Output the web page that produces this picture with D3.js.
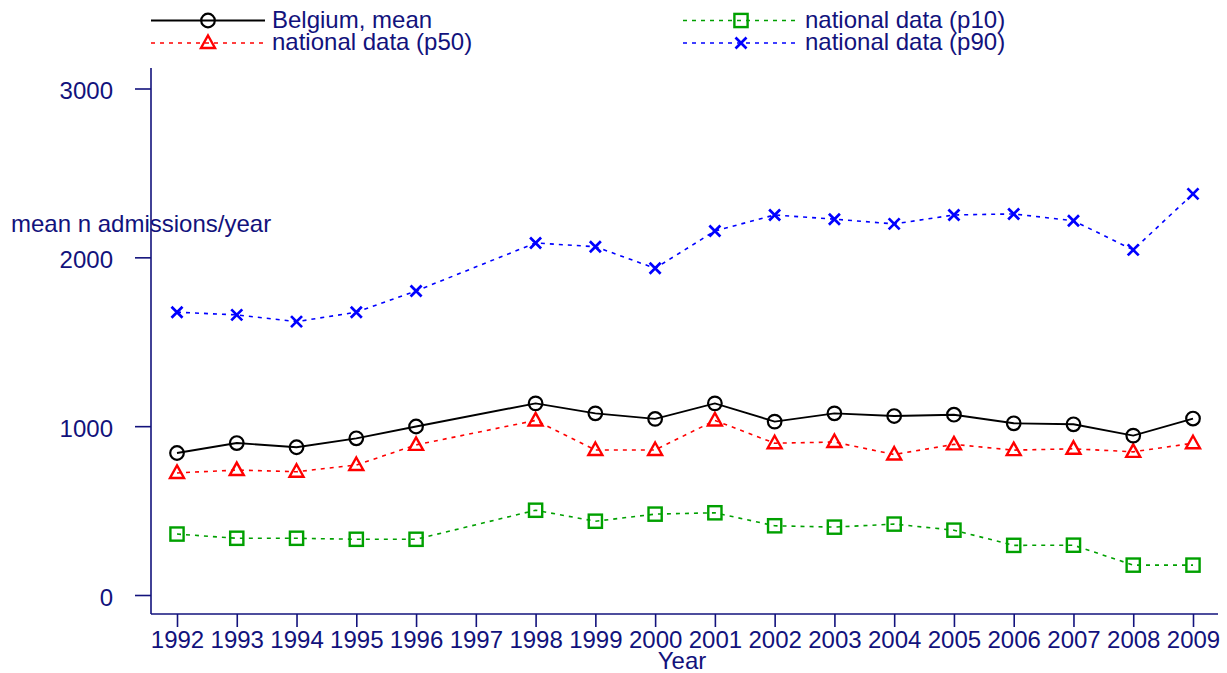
<!DOCTYPE html>
<html>
<head>
<meta charset="utf-8">
<script src="https://cdn.jsdelivr.net/npm/d3@7/dist/d3.min.js"></script>
<style>
  html, body { margin: 0; padding: 0; background: #fff; }
  svg { display: block; font-family: "Liberation Sans", Arial, Helvetica, sans-serif; }
</style>
</head>
<body>
<svg id="chart" width="1227" height="673"></svg>
<script>
// Hospital admissions per year (1997 not surveyed)
const years = [1992, 1993, 1994, 1995, 1996, 1998, 1999, 2000, 2001, 2002, 2003, 2004, 2005, 2006, 2007, 2008, 2009];
const belgiumMean = [841, 900, 875, 928, 998, 1135, 1076, 1043, 1135, 1027, 1076, 1060, 1068, 1017, 1011, 944, 1045];
const p50 = [723, 740, 730, 770, 889, 1034, 859, 859, 1034, 899, 906, 832, 892, 858, 866, 848, 899];
const p10 = [361, 336, 336, 330, 330, 502, 437, 479, 487, 410, 402, 420, 384, 294, 295, 177, 177];
const p90 = [1675, 1659, 1619, 1675, 1801, 2085, 2063, 1935, 2156, 2251, 2226, 2198, 2251, 2257, 2217, 2044, 2376];
const xTicks = d3.range(1992, 2010);
const yTicks = [0, 1000, 2000, 3000];

const series = [
  { name: "Belgium, mean",       values: belgiumMean, color: "#000000", dash: null,  marker: "circle" },
  { name: "national data (p10)", values: p10,         color: "#00a000", dash: "4,5", marker: "square" },
  { name: "national data (p50)", values: p50,         color: "#ff0000", dash: "4,5", marker: "triangle" },
  { name: "national data (p90)", values: p90,         color: "#0000ff", dash: "4,5", marker: "cross" }
];

const ink = "#12127c";
const fontSize = "24px";
const svg = d3.select("#chart");

const x = d3.scaleLinear().domain([1992, 2009]).range([177, 1193]);
const y = d3.scaleLinear().domain([0, 3000]).range([595, 88.5]);

const axisX = 151, axisY = 614;

// axis lines
svg.append("line").attr("x1", axisX).attr("x2", axisX).attr("y1", 68).attr("y2", axisY)
  .attr("stroke", ink).attr("stroke-width", 1.6);
svg.append("line").attr("x1", axisX).attr("x2", 1218).attr("y1", axisY).attr("y2", axisY)
  .attr("stroke", ink).attr("stroke-width", 1.6);

// y axis ticks and labels
const gy = svg.append("g").attr("transform", `translate(${axisX},0)`)
  .call(d3.axisLeft(y).tickValues(yTicks).tickSize(16).tickPadding(22).tickFormat(d3.format("d")));
gy.select(".domain").remove();
gy.selectAll("line").attr("stroke", ink).attr("stroke-width", 1.6);
gy.selectAll("text").attr("fill", ink).style("font-size", fontSize).attr("dy", "0.42em");

// x axis ticks and labels
const gx = svg.append("g").attr("transform", `translate(0,${axisY})`)
  .call(d3.axisBottom(x).tickValues(xTicks).tickSize(13).tickPadding(4).tickFormat(d3.format("d")));
gx.select(".domain").remove();
gx.selectAll("line").attr("stroke", ink).attr("stroke-width", 1.6);
gx.selectAll("text").attr("fill", ink).style("font-size", fontSize).attr("dy", "0.7em");

// axis titles
svg.append("text").attr("x", 11).attr("y", 232).attr("fill", ink)
  .style("font-size", fontSize).text("mean n admissions/year");
svg.append("text").attr("x", 682).attr("y", 669).attr("text-anchor", "middle").attr("fill", ink)
  .style("font-size", fontSize).text("Year");

function drawMarker(g, type, cx, cy, color) {
  if (type === "circle") {
    g.append("circle").attr("cx", cx).attr("cy", cy).attr("r", 6.8)
      .attr("fill", "none").attr("stroke", color).attr("stroke-width", 2.2);
  } else if (type === "square") {
    g.append("rect").attr("x", cx - 6.6).attr("y", cy - 6.6).attr("width", 13.2).attr("height", 13.2)
      .attr("fill", "none").attr("stroke", color).attr("stroke-width", 2.4);
  } else if (type === "triangle") {
    const h = 12.5, w = 14;
    g.append("path")
      .attr("d", `M${cx},${cy - h * 0.6}L${cx + w / 2},${cy + h * 0.4}L${cx - w / 2},${cy + h * 0.4}Z`)
      .attr("fill", "none").attr("stroke", color).attr("stroke-width", 2.4).attr("stroke-linejoin", "miter");
  } else if (type === "cross") {
    const s = 5.5;
    g.append("path")
      .attr("d", `M${cx - s},${cy - s}L${cx + s},${cy + s}M${cx - s},${cy + s}L${cx + s},${cy - s}`)
      .attr("stroke", color).attr("stroke-width", 2.7);
  }
}

const line = d3.line().x((d, i) => x(years[i])).y(d => y(d));

// draw p90, p10, p50 first, mean on top
const order = [3, 1, 2, 0];
order.forEach(k => {
  const s = series[k];
  const g = svg.append("g");
  g.append("path").datum(s.values).attr("d", line)
    .attr("fill", "none").attr("stroke", s.color)
    .attr("stroke-width", s.dash ? 1.6 : 1.9)
    .attr("stroke-dasharray", s.dash);
  s.values.forEach((v, i) => drawMarker(g, s.marker, x(years[i]), y(v), s.color));
});

// legend: two columns, two rows
const legendPos = [
  { x1: 151, x2: 265, mx: 208, tx: 272, y: 20.5 },
  { x1: 683, x2: 795, mx: 741, tx: 805, y: 20.5 },
  { x1: 151, x2: 265, mx: 208, tx: 272, y: 43 },
  { x1: 683, x2: 795, mx: 741, tx: 805, y: 43 }
];
series.forEach((s, k) => {
  const p = legendPos[k];
  const g = svg.append("g");
  g.append("line").attr("x1", p.x1).attr("x2", p.x2).attr("y1", p.y).attr("y2", p.y)
    .attr("stroke", s.color).attr("stroke-width", s.dash ? 1.6 : 1.9).attr("stroke-dasharray", s.dash);
  drawMarker(g, s.marker, p.mx, p.y, s.color);
  g.append("text").attr("x", p.tx).attr("y", p.y + 7).attr("fill", ink)
    .style("font-size", fontSize).text(s.name);
});
</script>
</body>
</html>
